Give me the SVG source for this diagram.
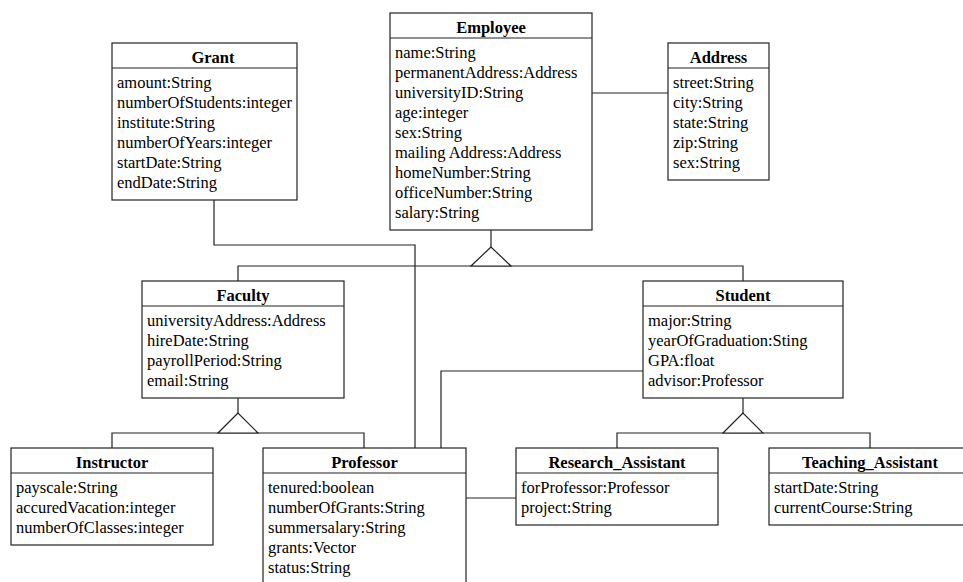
<svg xmlns="http://www.w3.org/2000/svg" width="963" height="582" viewBox="0 0 963 582">
<style>
.box{fill:#fff;stroke:#222;stroke-width:1.2}
.sep{stroke:#222;stroke-width:1.2}
.ln{fill:none;stroke:#222;stroke-width:1.2}
.tri{fill:#fff;stroke:#222;stroke-width:1.2}
.h{font-family:"Liberation Serif","Times New Roman",serif;font-size:16.5px;font-weight:bold;text-anchor:middle;fill:#000}
.a{font-family:"Liberation Serif","Times New Roman",serif;font-size:16.5px;fill:#000}
</style>
<rect width="963" height="582" fill="#fff"/>
<g id="connectors">
<polyline class="ln" points="592,93 668,93"/>
<polyline class="ln" points="491,230 491,247"/>
<polyline class="ln" points="238,281 238,266 743,266 743,281"/>
<polygon class="tri" points="491,247 471,266 511,266"/>
<polyline class="ln" points="214,200 214,245 415,245 415,448"/>
<polyline class="ln" points="643,371 441,371 441,448"/>
<polyline class="ln" points="238,398 238,413"/>
<polyline class="ln" points="112,448 112,433 364,433 364,448"/>
<polygon class="tri" points="238,413 218,433 258,433"/>
<polyline class="ln" points="743,398 743,413"/>
<polyline class="ln" points="617,448 617,433 870,433 870,448"/>
<polygon class="tri" points="743,413 723,433 763,433"/>
<polyline class="ln" points="466,498 516,498"/>
</g>
<g id="Grant">
<rect class="box" x="112" y="43" width="185" height="157"/>
<line class="sep" x1="112" y1="68" x2="297" y2="68"/>
<text class="h" x="213" y="63">Grant</text>
<text class="a" x="117" y="88">amount:String</text>
<text class="a" x="117" y="108">numberOfStudents:integer</text>
<text class="a" x="117" y="128">institute:String</text>
<text class="a" x="117" y="148">numberOfYears:integer</text>
<text class="a" x="117" y="168">startDate:String</text>
<text class="a" x="117" y="188">endDate:String</text>
</g>
<g id="Employee">
<rect class="box" x="390" y="13" width="202" height="217"/>
<line class="sep" x1="390" y1="38" x2="592" y2="38"/>
<text class="h" x="491" y="33">Employee</text>
<text class="a" x="395" y="58">name:String</text>
<text class="a" x="395" y="78">permanentAddress:Address</text>
<text class="a" x="395" y="98">universityID:String</text>
<text class="a" x="395" y="118">age:integer</text>
<text class="a" x="395" y="138">sex:String</text>
<text class="a" x="395" y="158">mailing Address:Address</text>
<text class="a" x="395" y="178">homeNumber:String</text>
<text class="a" x="395" y="198">officeNumber:String</text>
<text class="a" x="395" y="218">salary:String</text>
</g>
<g id="Address">
<rect class="box" x="668" y="43" width="101" height="137"/>
<line class="sep" x1="668" y1="68" x2="769" y2="68"/>
<text class="h" x="718.5" y="63">Address</text>
<text class="a" x="673" y="88">street:String</text>
<text class="a" x="673" y="108">city:String</text>
<text class="a" x="673" y="128">state:String</text>
<text class="a" x="673" y="148">zip:String</text>
<text class="a" x="673" y="168">sex:String</text>
</g>
<g id="Faculty">
<rect class="box" x="142" y="281" width="202" height="117"/>
<line class="sep" x1="142" y1="306" x2="344" y2="306"/>
<text class="h" x="243" y="301">Faculty</text>
<text class="a" x="147" y="326">universityAddress:Address</text>
<text class="a" x="147" y="346">hireDate:String</text>
<text class="a" x="147" y="366">payrollPeriod:String</text>
<text class="a" x="147" y="386">email:String</text>
</g>
<g id="Student">
<rect class="box" x="643" y="281" width="200" height="117"/>
<line class="sep" x1="643" y1="306" x2="843" y2="306"/>
<text class="h" x="743" y="301">Student</text>
<text class="a" x="648" y="326">major:String</text>
<text class="a" x="648" y="346">yearOfGraduation:Sting</text>
<text class="a" x="648" y="366">GPA:float</text>
<text class="a" x="648" y="386">advisor:Professor</text>
</g>
<g id="Instructor">
<rect class="box" x="11" y="448" width="202" height="97"/>
<line class="sep" x1="11" y1="473" x2="213" y2="473"/>
<text class="h" x="112" y="468">Instructor</text>
<text class="a" x="16" y="493">payscale:String</text>
<text class="a" x="16" y="513">accuredVacation:integer</text>
<text class="a" x="16" y="533">numberOfClasses:integer</text>
</g>
<g id="Professor">
<rect class="box" x="263" y="448" width="203" height="140"/>
<line class="sep" x1="263" y1="473" x2="466" y2="473"/>
<text class="h" x="364.5" y="468">Professor</text>
<text class="a" x="268" y="493">tenured:boolean</text>
<text class="a" x="268" y="513">numberOfGrants:String</text>
<text class="a" x="268" y="533">summersalary:String</text>
<text class="a" x="268" y="553">grants:Vector</text>
<text class="a" x="268" y="573">status:String</text>
</g>
<g id="Research_Assistant">
<rect class="box" x="516" y="448" width="202" height="77"/>
<line class="sep" x1="516" y1="473" x2="718" y2="473"/>
<text class="h" x="617" y="468">Research_Assistant</text>
<text class="a" x="521" y="493">forProfessor:Professor</text>
<text class="a" x="521" y="513">project:String</text>
</g>
<g id="Teaching_Assistant">
<rect class="box" x="769" y="448" width="202" height="77"/>
<line class="sep" x1="769" y1="473" x2="971" y2="473"/>
<text class="h" x="870" y="468">Teaching_Assistant</text>
<text class="a" x="774" y="493">startDate:String</text>
<text class="a" x="774" y="513">currentCourse:String</text>
</g>
</svg>
